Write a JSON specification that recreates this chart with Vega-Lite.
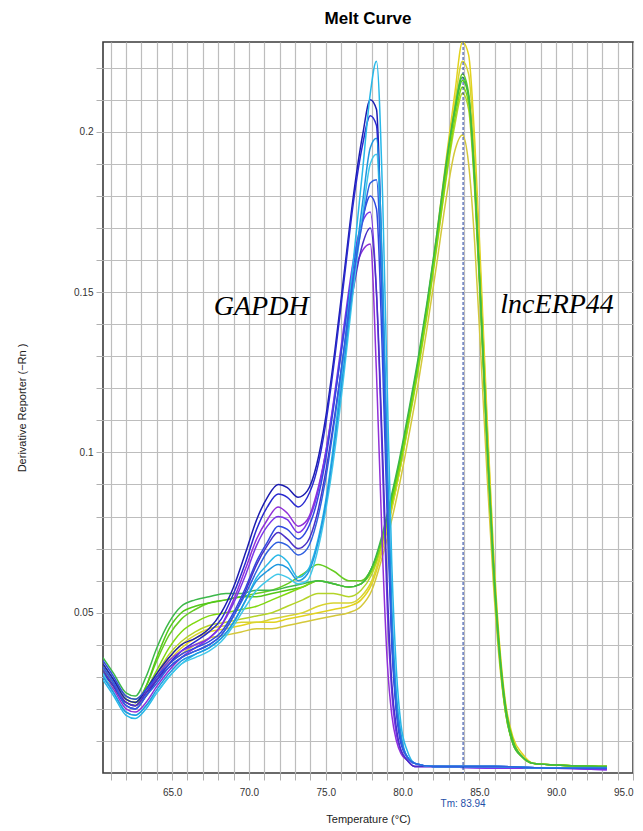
{
  "$schema": "https://vega.github.io/schema/vega-lite/v6.json",
  "width": 530,
  "height": 731,
  "autosize": {"type": "none"},
  "padding": {"left": 103, "top": 42, "right": 10, "bottom": 58},
  "background": "white",
  "title": {"text": "Melt Curve", "font": "Liberation Sans", "fontSize": 17, "fontWeight": "bold", "color": "#000000", "offset": 14, "anchor": "middle"},
  "config": {
    "view": {"stroke": "#3a3a3a", "strokeWidth": 1.6},
    "axis": {"labelFont": "Liberation Sans", "titleFont": "Liberation Sans", "labelFontSize": 10, "labelColor": "#333333", "titleFontSize": 11, "titleFontWeight": "normal", "titleColor": "#222222", "gridColor": "#bdbdbd", "gridWidth": 1.2, "tickColor": "#b0b0b0", "domain": false}
  },
  "layer": [
    {
      "data": {"values": [
        {"c":"L1","t":60.5,"v":0.031},{"c":"L1","t":61.2,"v":0.027},{"c":"L1","t":62.0,"v":0.023},{"c":"L1","t":62.6,"v":0.022},{"c":"L1","t":63.3,"v":0.025},{"c":"L1","t":64.0,"v":0.030},{"c":"L1","t":64.8,"v":0.035},{"c":"L1","t":65.6,"v":0.039},{"c":"L1","t":66.5,"v":0.042},{"c":"L1","t":67.4,"v":0.044},
        {"c":"L1","t":68.5,"v":0.045},{"c":"L1","t":69.5,"v":0.046},{"c":"L1","t":70.5,"v":0.047},{"c":"L1","t":71.5,"v":0.047},{"c":"L1","t":72.5,"v":0.048},{"c":"L1","t":73.5,"v":0.049},{"c":"L1","t":74.5,"v":0.050},{"c":"L1","t":75.5,"v":0.051},{"c":"L1","t":76.5,"v":0.052},{"c":"L1","t":77.3,"v":0.054},
        {"c":"L1","t":78.0,"v":0.059},{"c":"L1","t":78.6,"v":0.068},{"c":"L1","t":79.2,"v":0.080},{"c":"L1","t":79.8,"v":0.094},{"c":"L1","t":80.4,"v":0.110},{"c":"L1","t":81.0,"v":0.127},{"c":"L1","t":81.6,"v":0.146},{"c":"L1","t":82.2,"v":0.167},{"c":"L1","t":82.8,"v":0.190},{"c":"L1","t":83.4,"v":0.212},
        {"c":"L1","t":83.9,"v":0.228},{"c":"L1","t":84.3,"v":0.224},{"c":"L1","t":84.7,"v":0.197},{"c":"L1","t":85.1,"v":0.156},{"c":"L1","t":85.5,"v":0.111},{"c":"L1","t":85.9,"v":0.071},{"c":"L1","t":86.3,"v":0.041},{"c":"L1","t":86.7,"v":0.022},{"c":"L1","t":87.2,"v":0.011},{"c":"L1","t":87.8,"v":0.006},
        {"c":"L1","t":88.5,"v":0.003},{"c":"L1","t":90.0,"v":0.0025},{"c":"L1","t":93.3,"v":0.002},

        {"c":"L2","t":60.5,"v":0.030},{"c":"L2","t":61.2,"v":0.026},{"c":"L2","t":62.0,"v":0.022},{"c":"L2","t":62.6,"v":0.021},{"c":"L2","t":63.3,"v":0.024},{"c":"L2","t":64.0,"v":0.029},{"c":"L2","t":64.8,"v":0.034},{"c":"L2","t":65.6,"v":0.037},{"c":"L2","t":66.5,"v":0.040},{"c":"L2","t":67.4,"v":0.042},
        {"c":"L2","t":68.5,"v":0.043},{"c":"L2","t":69.5,"v":0.044},{"c":"L2","t":70.5,"v":0.045},{"c":"L2","t":71.5,"v":0.045},{"c":"L2","t":72.5,"v":0.046},{"c":"L2","t":73.5,"v":0.047},{"c":"L2","t":74.5,"v":0.048},{"c":"L2","t":75.5,"v":0.049},{"c":"L2","t":76.5,"v":0.050},{"c":"L2","t":77.3,"v":0.052},
        {"c":"L2","t":78.0,"v":0.057},{"c":"L2","t":78.6,"v":0.066},{"c":"L2","t":79.2,"v":0.077},{"c":"L2","t":79.8,"v":0.090},{"c":"L2","t":80.4,"v":0.105},{"c":"L2","t":81.0,"v":0.121},{"c":"L2","t":81.6,"v":0.139},{"c":"L2","t":82.2,"v":0.158},{"c":"L2","t":82.8,"v":0.178},{"c":"L2","t":83.4,"v":0.194},
        {"c":"L2","t":83.9,"v":0.199},{"c":"L2","t":84.3,"v":0.190},{"c":"L2","t":84.7,"v":0.165},{"c":"L2","t":85.1,"v":0.130},{"c":"L2","t":85.5,"v":0.093},{"c":"L2","t":85.9,"v":0.060},{"c":"L2","t":86.3,"v":0.035},{"c":"L2","t":86.7,"v":0.019},{"c":"L2","t":87.2,"v":0.009},{"c":"L2","t":87.8,"v":0.005},
        {"c":"L2","t":88.5,"v":0.003},{"c":"L2","t":90.0,"v":0.0025},{"c":"L2","t":93.3,"v":0.002},

        {"c":"L7","t":60.5,"v":0.033},{"c":"L7","t":61.2,"v":0.028},{"c":"L7","t":62.0,"v":0.023},{"c":"L7","t":62.6,"v":0.022},{"c":"L7","t":63.3,"v":0.026},{"c":"L7","t":64.0,"v":0.031},{"c":"L7","t":64.8,"v":0.037},{"c":"L7","t":65.6,"v":0.041},{"c":"L7","t":66.5,"v":0.044},{"c":"L7","t":67.4,"v":0.046},
        {"c":"L7","t":68.5,"v":0.047},{"c":"L7","t":69.5,"v":0.048},{"c":"L7","t":70.5,"v":0.049},{"c":"L7","t":71.5,"v":0.050},{"c":"L7","t":72.5,"v":0.052},{"c":"L7","t":73.5,"v":0.054},{"c":"L7","t":74.5,"v":0.056},{"c":"L7","t":75.5,"v":0.056},{"c":"L7","t":76.5,"v":0.055},{"c":"L7","t":77.3,"v":0.057},
        {"c":"L7","t":78.0,"v":0.062},{"c":"L7","t":78.6,"v":0.070},{"c":"L7","t":79.2,"v":0.081},{"c":"L7","t":79.8,"v":0.094},{"c":"L7","t":80.4,"v":0.109},{"c":"L7","t":81.0,"v":0.125},{"c":"L7","t":81.6,"v":0.143},{"c":"L7","t":82.2,"v":0.163},{"c":"L7","t":82.8,"v":0.184},{"c":"L7","t":83.4,"v":0.202},
        {"c":"L7","t":83.9,"v":0.212},{"c":"L7","t":84.3,"v":0.207},{"c":"L7","t":84.7,"v":0.181},{"c":"L7","t":85.1,"v":0.142},{"c":"L7","t":85.5,"v":0.101},{"c":"L7","t":85.9,"v":0.064},{"c":"L7","t":86.3,"v":0.037},{"c":"L7","t":86.7,"v":0.019},{"c":"L7","t":87.2,"v":0.009},{"c":"L7","t":87.8,"v":0.005},
        {"c":"L7","t":88.5,"v":0.003},{"c":"L7","t":90.0,"v":0.0025},{"c":"L7","t":93.3,"v":0.002},

        {"c":"L8","t":60.5,"v":0.032},{"c":"L8","t":61.2,"v":0.027},{"c":"L8","t":62.0,"v":0.023},{"c":"L8","t":62.6,"v":0.022},{"c":"L8","t":63.3,"v":0.025},{"c":"L8","t":64.0,"v":0.030},{"c":"L8","t":64.8,"v":0.036},{"c":"L8","t":65.6,"v":0.040},{"c":"L8","t":66.5,"v":0.043},{"c":"L8","t":67.4,"v":0.045},
        {"c":"L8","t":68.5,"v":0.046},{"c":"L8","t":69.5,"v":0.047},{"c":"L8","t":70.5,"v":0.047},{"c":"L8","t":71.5,"v":0.048},{"c":"L8","t":72.5,"v":0.049},{"c":"L8","t":73.5,"v":0.050},{"c":"L8","t":74.5,"v":0.052},{"c":"L8","t":75.5,"v":0.053},{"c":"L8","t":76.5,"v":0.053},{"c":"L8","t":77.3,"v":0.055},
        {"c":"L8","t":78.0,"v":0.060},{"c":"L8","t":78.6,"v":0.069},{"c":"L8","t":79.2,"v":0.081},{"c":"L8","t":79.8,"v":0.094},{"c":"L8","t":80.4,"v":0.110},{"c":"L8","t":81.0,"v":0.127},{"c":"L8","t":81.6,"v":0.145},{"c":"L8","t":82.2,"v":0.166},{"c":"L8","t":82.8,"v":0.188},{"c":"L8","t":83.4,"v":0.209},
        {"c":"L8","t":83.9,"v":0.222},{"c":"L8","t":84.3,"v":0.218},{"c":"L8","t":84.7,"v":0.192},{"c":"L8","t":85.1,"v":0.152},{"c":"L8","t":85.5,"v":0.108},{"c":"L8","t":85.9,"v":0.069},{"c":"L8","t":86.3,"v":0.040},{"c":"L8","t":86.7,"v":0.021},{"c":"L8","t":87.2,"v":0.010},{"c":"L8","t":87.8,"v":0.005},
        {"c":"L8","t":88.5,"v":0.003},{"c":"L8","t":90.0,"v":0.0025},{"c":"L8","t":93.3,"v":0.002},

        {"c":"L3","t":60.5,"v":0.033},{"c":"L3","t":61.2,"v":0.028},{"c":"L3","t":62.0,"v":0.023},{"c":"L3","t":62.6,"v":0.022},{"c":"L3","t":63.3,"v":0.027},{"c":"L3","t":64.0,"v":0.035},{"c":"L3","t":64.8,"v":0.043},{"c":"L3","t":65.6,"v":0.048},{"c":"L3","t":66.5,"v":0.051},{"c":"L3","t":67.4,"v":0.053},
        {"c":"L3","t":68.5,"v":0.054},{"c":"L3","t":69.5,"v":0.055},{"c":"L3","t":70.5,"v":0.056},{"c":"L3","t":71.5,"v":0.057},{"c":"L3","t":72.5,"v":0.059},{"c":"L3","t":73.5,"v":0.062},{"c":"L3","t":74.5,"v":0.065},{"c":"L3","t":75.5,"v":0.063},{"c":"L3","t":76.5,"v":0.060},{"c":"L3","t":77.3,"v":0.060},
        {"c":"L3","t":78.0,"v":0.064},{"c":"L3","t":78.6,"v":0.072},{"c":"L3","t":79.2,"v":0.083},{"c":"L3","t":79.8,"v":0.096},{"c":"L3","t":80.4,"v":0.111},{"c":"L3","t":81.0,"v":0.127},{"c":"L3","t":81.6,"v":0.145},{"c":"L3","t":82.2,"v":0.165},{"c":"L3","t":82.8,"v":0.187},{"c":"L3","t":83.4,"v":0.207},
        {"c":"L3","t":83.9,"v":0.218},{"c":"L3","t":84.3,"v":0.212},{"c":"L3","t":84.7,"v":0.185},{"c":"L3","t":85.1,"v":0.145},{"c":"L3","t":85.5,"v":0.103},{"c":"L3","t":85.9,"v":0.066},{"c":"L3","t":86.3,"v":0.038},{"c":"L3","t":86.7,"v":0.020},{"c":"L3","t":87.2,"v":0.009},{"c":"L3","t":87.8,"v":0.005},
        {"c":"L3","t":88.5,"v":0.003},{"c":"L3","t":90.0,"v":0.0025},{"c":"L3","t":93.3,"v":0.002},

        {"c":"L4","t":60.5,"v":0.032},{"c":"L4","t":61.2,"v":0.027},{"c":"L4","t":62.0,"v":0.022},{"c":"L4","t":62.6,"v":0.021},{"c":"L4","t":63.3,"v":0.027},{"c":"L4","t":64.0,"v":0.036},{"c":"L4","t":64.8,"v":0.045},{"c":"L4","t":65.6,"v":0.050},{"c":"L4","t":66.5,"v":0.052},{"c":"L4","t":67.4,"v":0.053},
        {"c":"L4","t":68.5,"v":0.054},{"c":"L4","t":69.5,"v":0.055},{"c":"L4","t":70.5,"v":0.055},{"c":"L4","t":71.5,"v":0.056},{"c":"L4","t":72.5,"v":0.057},{"c":"L4","t":73.5,"v":0.058},{"c":"L4","t":74.5,"v":0.060},{"c":"L4","t":75.5,"v":0.059},{"c":"L4","t":76.5,"v":0.058},{"c":"L4","t":77.3,"v":0.059},
        {"c":"L4","t":78.0,"v":0.064},{"c":"L4","t":78.6,"v":0.072},{"c":"L4","t":79.2,"v":0.084},{"c":"L4","t":79.8,"v":0.097},{"c":"L4","t":80.4,"v":0.112},{"c":"L4","t":81.0,"v":0.128},{"c":"L4","t":81.6,"v":0.146},{"c":"L4","t":82.2,"v":0.166},{"c":"L4","t":82.8,"v":0.188},{"c":"L4","t":83.4,"v":0.206},
        {"c":"L4","t":83.9,"v":0.216},{"c":"L4","t":84.3,"v":0.211},{"c":"L4","t":84.7,"v":0.185},{"c":"L4","t":85.1,"v":0.146},{"c":"L4","t":85.5,"v":0.104},{"c":"L4","t":85.9,"v":0.067},{"c":"L4","t":86.3,"v":0.039},{"c":"L4","t":86.7,"v":0.021},{"c":"L4","t":87.2,"v":0.010},{"c":"L4","t":87.8,"v":0.005},
        {"c":"L4","t":88.5,"v":0.003},{"c":"L4","t":90.0,"v":0.0025},{"c":"L4","t":93.3,"v":0.002},

        {"c":"L5","t":60.5,"v":0.034},{"c":"L5","t":61.2,"v":0.029},{"c":"L5","t":62.0,"v":0.024},{"c":"L5","t":62.6,"v":0.023},{"c":"L5","t":63.3,"v":0.026},{"c":"L5","t":64.0,"v":0.032},{"c":"L5","t":64.8,"v":0.039},{"c":"L5","t":65.6,"v":0.044},{"c":"L5","t":66.5,"v":0.047},{"c":"L5","t":67.4,"v":0.049},
        {"c":"L5","t":68.5,"v":0.050},{"c":"L5","t":69.5,"v":0.051},{"c":"L5","t":70.5,"v":0.052},{"c":"L5","t":71.5,"v":0.054},{"c":"L5","t":72.5,"v":0.056},{"c":"L5","t":73.5,"v":0.058},{"c":"L5","t":74.5,"v":0.060},{"c":"L5","t":75.5,"v":0.059},{"c":"L5","t":76.5,"v":0.058},{"c":"L5","t":77.3,"v":0.059},
        {"c":"L5","t":78.0,"v":0.063},{"c":"L5","t":78.6,"v":0.071},{"c":"L5","t":79.2,"v":0.082},{"c":"L5","t":79.8,"v":0.095},{"c":"L5","t":80.4,"v":0.110},{"c":"L5","t":81.0,"v":0.126},{"c":"L5","t":81.6,"v":0.144},{"c":"L5","t":82.2,"v":0.164},{"c":"L5","t":82.8,"v":0.185},{"c":"L5","t":83.4,"v":0.204},
        {"c":"L5","t":83.9,"v":0.214},{"c":"L5","t":84.3,"v":0.209},{"c":"L5","t":84.7,"v":0.183},{"c":"L5","t":85.1,"v":0.144},{"c":"L5","t":85.5,"v":0.102},{"c":"L5","t":85.9,"v":0.065},{"c":"L5","t":86.3,"v":0.037},{"c":"L5","t":86.7,"v":0.019},{"c":"L5","t":87.2,"v":0.009},{"c":"L5","t":87.8,"v":0.005},
        {"c":"L5","t":88.5,"v":0.003},{"c":"L5","t":90.0,"v":0.0025},{"c":"L5","t":93.3,"v":0.002},

        {"c":"L6","t":60.5,"v":0.036},{"c":"L6","t":61.2,"v":0.031},{"c":"L6","t":62.0,"v":0.025},{"c":"L6","t":62.6,"v":0.024},{"c":"L6","t":63.3,"v":0.030},{"c":"L6","t":64.0,"v":0.039},{"c":"L6","t":64.8,"v":0.047},{"c":"L6","t":65.6,"v":0.052},{"c":"L6","t":66.5,"v":0.054},{"c":"L6","t":67.4,"v":0.055},
        {"c":"L6","t":68.5,"v":0.056},{"c":"L6","t":69.5,"v":0.056},{"c":"L6","t":70.5,"v":0.057},{"c":"L6","t":71.5,"v":0.057},{"c":"L6","t":72.5,"v":0.058},{"c":"L6","t":73.5,"v":0.059},{"c":"L6","t":74.5,"v":0.060},{"c":"L6","t":75.5,"v":0.059},{"c":"L6","t":76.5,"v":0.058},{"c":"L6","t":77.3,"v":0.059},
        {"c":"L6","t":78.0,"v":0.064},{"c":"L6","t":78.6,"v":0.073},{"c":"L6","t":79.2,"v":0.085},{"c":"L6","t":79.8,"v":0.098},{"c":"L6","t":80.4,"v":0.113},{"c":"L6","t":81.0,"v":0.129},{"c":"L6","t":81.6,"v":0.147},{"c":"L6","t":82.2,"v":0.167},{"c":"L6","t":82.8,"v":0.189},{"c":"L6","t":83.4,"v":0.207},
        {"c":"L6","t":83.9,"v":0.217},{"c":"L6","t":84.3,"v":0.211},{"c":"L6","t":84.7,"v":0.184},{"c":"L6","t":85.1,"v":0.145},{"c":"L6","t":85.5,"v":0.103},{"c":"L6","t":85.9,"v":0.066},{"c":"L6","t":86.3,"v":0.038},{"c":"L6","t":86.7,"v":0.020},{"c":"L6","t":87.2,"v":0.009},{"c":"L6","t":87.8,"v":0.005},
        {"c":"L6","t":88.5,"v":0.003},{"c":"L6","t":90.0,"v":0.0025},{"c":"L6","t":93.3,"v":0.002},

        {"c":"G1","t":60.5,"v":0.034},{"c":"G1","t":61.2,"v":0.029},{"c":"G1","t":62.0,"v":0.023},{"c":"G1","t":62.6,"v":0.022},{"c":"G1","t":63.3,"v":0.026},{"c":"G1","t":64.0,"v":0.031},{"c":"G1","t":64.8,"v":0.036},{"c":"G1","t":65.6,"v":0.040},{"c":"G1","t":66.5,"v":0.042},{"c":"G1","t":67.4,"v":0.045},
        {"c":"G1","t":68.2,"v":0.050},{"c":"G1","t":69.0,"v":0.058},{"c":"G1","t":69.8,"v":0.069},{"c":"G1","t":70.5,"v":0.079},{"c":"G1","t":71.2,"v":0.086},{"c":"G1","t":71.9,"v":0.090},{"c":"G1","t":72.5,"v":0.089},{"c":"G1","t":73.2,"v":0.086},{"c":"G1","t":73.8,"v":0.088},{"c":"G1","t":74.4,"v":0.096},
        {"c":"G1","t":75.0,"v":0.111},{"c":"G1","t":75.6,"v":0.132},{"c":"G1","t":76.2,"v":0.156},{"c":"G1","t":76.8,"v":0.180},{"c":"G1","t":77.4,"v":0.199},{"c":"G1","t":77.9,"v":0.210},{"c":"G1","t":78.3,"v":0.207},{"c":"G1","t":78.7,"v":0.150},{"c":"G1","t":79.0,"v":0.092},{"c":"G1","t":79.3,"v":0.045},
        {"c":"G1","t":79.6,"v":0.021},{"c":"G1","t":79.9,"v":0.010},{"c":"G1","t":80.3,"v":0.005},{"c":"G1","t":80.8,"v":0.003},{"c":"G1","t":82.0,"v":0.002},{"c":"G1","t":86.0,"v":0.002},{"c":"G1","t":90.0,"v":0.0015},{"c":"G1","t":93.3,"v":0.0015},

        {"c":"G2","t":60.5,"v":0.031},{"c":"G2","t":61.2,"v":0.027},{"c":"G2","t":62.0,"v":0.021},{"c":"G2","t":62.6,"v":0.020},{"c":"G2","t":63.3,"v":0.024},{"c":"G2","t":64.0,"v":0.029},{"c":"G2","t":64.8,"v":0.034},{"c":"G2","t":65.6,"v":0.038},{"c":"G2","t":66.5,"v":0.041},{"c":"G2","t":67.4,"v":0.044},
        {"c":"G2","t":68.2,"v":0.048},{"c":"G2","t":69.0,"v":0.056},{"c":"G2","t":69.8,"v":0.066},{"c":"G2","t":70.5,"v":0.076},{"c":"G2","t":71.2,"v":0.083},{"c":"G2","t":71.9,"v":0.087},{"c":"G2","t":72.5,"v":0.086},{"c":"G2","t":73.2,"v":0.083},{"c":"G2","t":73.8,"v":0.086},{"c":"G2","t":74.4,"v":0.094},
        {"c":"G2","t":75.0,"v":0.109},{"c":"G2","t":75.6,"v":0.130},{"c":"G2","t":76.2,"v":0.154},{"c":"G2","t":76.8,"v":0.178},{"c":"G2","t":77.4,"v":0.196},{"c":"G2","t":77.9,"v":0.205},{"c":"G2","t":78.3,"v":0.202},{"c":"G2","t":78.7,"v":0.146},{"c":"G2","t":79.0,"v":0.089},{"c":"G2","t":79.3,"v":0.043},
        {"c":"G2","t":79.6,"v":0.020},{"c":"G2","t":79.9,"v":0.010},{"c":"G2","t":80.3,"v":0.005},{"c":"G2","t":80.8,"v":0.003},{"c":"G2","t":82.0,"v":0.002},{"c":"G2","t":86.0,"v":0.002},{"c":"G2","t":90.0,"v":0.0015},{"c":"G2","t":93.3,"v":0.0015},

        {"c":"G3","t":60.5,"v":0.030},{"c":"G3","t":61.2,"v":0.026},{"c":"G3","t":62.0,"v":0.020},{"c":"G3","t":62.6,"v":0.019},{"c":"G3","t":63.3,"v":0.022},{"c":"G3","t":64.0,"v":0.027},{"c":"G3","t":64.8,"v":0.032},{"c":"G3","t":65.6,"v":0.036},{"c":"G3","t":66.5,"v":0.039},{"c":"G3","t":67.4,"v":0.042},
        {"c":"G3","t":68.2,"v":0.046},{"c":"G3","t":69.0,"v":0.054},{"c":"G3","t":69.8,"v":0.064},{"c":"G3","t":70.5,"v":0.073},{"c":"G3","t":71.2,"v":0.079},{"c":"G3","t":71.9,"v":0.083},{"c":"G3","t":72.5,"v":0.081},{"c":"G3","t":73.2,"v":0.077},{"c":"G3","t":73.8,"v":0.079},{"c":"G3","t":74.4,"v":0.087},
        {"c":"G3","t":75.0,"v":0.100},{"c":"G3","t":75.6,"v":0.118},{"c":"G3","t":76.2,"v":0.138},{"c":"G3","t":76.8,"v":0.155},{"c":"G3","t":77.4,"v":0.163},{"c":"G3","t":77.9,"v":0.165},{"c":"G3","t":78.3,"v":0.125},{"c":"G3","t":78.7,"v":0.068},{"c":"G3","t":79.0,"v":0.035},{"c":"G3","t":79.3,"v":0.018},
        {"c":"G3","t":79.6,"v":0.010},{"c":"G3","t":79.9,"v":0.006},{"c":"G3","t":80.3,"v":0.004},{"c":"G3","t":80.8,"v":0.002},{"c":"G3","t":82.0,"v":0.002},{"c":"G3","t":86.0,"v":0.0015},{"c":"G3","t":90.0,"v":0.0015},{"c":"G3","t":93.3,"v":0.001},

        {"c":"G4","t":60.5,"v":0.033},{"c":"G4","t":61.2,"v":0.028},{"c":"G4","t":62.0,"v":0.022},{"c":"G4","t":62.6,"v":0.021},{"c":"G4","t":63.3,"v":0.025},{"c":"G4","t":64.0,"v":0.030},{"c":"G4","t":64.8,"v":0.035},{"c":"G4","t":65.6,"v":0.038},{"c":"G4","t":66.5,"v":0.040},{"c":"G4","t":67.4,"v":0.042},
        {"c":"G4","t":68.2,"v":0.046},{"c":"G4","t":69.0,"v":0.053},{"c":"G4","t":69.8,"v":0.062},{"c":"G4","t":70.5,"v":0.071},{"c":"G4","t":71.2,"v":0.077},{"c":"G4","t":71.9,"v":0.080},{"c":"G4","t":72.5,"v":0.079},{"c":"G4","t":73.2,"v":0.075},{"c":"G4","t":73.8,"v":0.078},{"c":"G4","t":74.4,"v":0.086},
        {"c":"G4","t":75.0,"v":0.100},{"c":"G4","t":75.6,"v":0.119},{"c":"G4","t":76.2,"v":0.140},{"c":"G4","t":76.8,"v":0.160},{"c":"G4","t":77.4,"v":0.172},{"c":"G4","t":77.9,"v":0.175},{"c":"G4","t":78.3,"v":0.150},{"c":"G4","t":78.7,"v":0.095},{"c":"G4","t":79.0,"v":0.052},{"c":"G4","t":79.3,"v":0.025},
        {"c":"G4","t":79.6,"v":0.012},{"c":"G4","t":79.9,"v":0.007},{"c":"G4","t":80.3,"v":0.004},{"c":"G4","t":80.8,"v":0.002},{"c":"G4","t":82.0,"v":0.002},{"c":"G4","t":86.0,"v":0.0015},{"c":"G4","t":90.0,"v":0.0015},{"c":"G4","t":93.3,"v":0.001},

        {"c":"G5","t":60.5,"v":0.035},{"c":"G5","t":61.2,"v":0.030},{"c":"G5","t":62.0,"v":0.024},{"c":"G5","t":62.6,"v":0.023},{"c":"G5","t":63.3,"v":0.026},{"c":"G5","t":64.0,"v":0.030},{"c":"G5","t":64.8,"v":0.034},{"c":"G5","t":65.6,"v":0.037},{"c":"G5","t":66.5,"v":0.039},{"c":"G5","t":67.4,"v":0.041},
        {"c":"G5","t":68.2,"v":0.044},{"c":"G5","t":69.0,"v":0.050},{"c":"G5","t":69.8,"v":0.058},{"c":"G5","t":70.5,"v":0.066},{"c":"G5","t":71.2,"v":0.072},{"c":"G5","t":71.9,"v":0.077},{"c":"G5","t":72.5,"v":0.076},{"c":"G5","t":73.2,"v":0.073},{"c":"G5","t":73.8,"v":0.076},{"c":"G5","t":74.4,"v":0.084},
        {"c":"G5","t":75.0,"v":0.098},{"c":"G5","t":75.6,"v":0.117},{"c":"G5","t":76.2,"v":0.138},{"c":"G5","t":76.8,"v":0.158},{"c":"G5","t":77.4,"v":0.173},{"c":"G5","t":77.9,"v":0.180},{"c":"G5","t":78.3,"v":0.176},{"c":"G5","t":78.7,"v":0.128},{"c":"G5","t":79.0,"v":0.080},{"c":"G5","t":79.3,"v":0.040},
        {"c":"G5","t":79.6,"v":0.019},{"c":"G5","t":79.9,"v":0.009},{"c":"G5","t":80.3,"v":0.005},{"c":"G5","t":80.8,"v":0.003},{"c":"G5","t":82.0,"v":0.002},{"c":"G5","t":86.0,"v":0.002},{"c":"G5","t":90.0,"v":0.0015},{"c":"G5","t":93.3,"v":0.0015},

        {"c":"G6","t":60.5,"v":0.032},{"c":"G6","t":61.2,"v":0.027},{"c":"G6","t":62.0,"v":0.022},{"c":"G6","t":62.6,"v":0.021},{"c":"G6","t":63.3,"v":0.025},{"c":"G6","t":64.0,"v":0.029},{"c":"G6","t":64.8,"v":0.033},{"c":"G6","t":65.6,"v":0.036},{"c":"G6","t":66.5,"v":0.038},{"c":"G6","t":67.4,"v":0.040},
        {"c":"G6","t":68.2,"v":0.043},{"c":"G6","t":69.0,"v":0.049},{"c":"G6","t":69.8,"v":0.057},{"c":"G6","t":70.5,"v":0.065},{"c":"G6","t":71.2,"v":0.071},{"c":"G6","t":71.9,"v":0.075},{"c":"G6","t":72.5,"v":0.073},{"c":"G6","t":73.2,"v":0.070},{"c":"G6","t":73.8,"v":0.072},{"c":"G6","t":74.4,"v":0.080},
        {"c":"G6","t":75.0,"v":0.094},{"c":"G6","t":75.6,"v":0.112},{"c":"G6","t":76.2,"v":0.132},{"c":"G6","t":76.8,"v":0.151},{"c":"G6","t":77.4,"v":0.165},{"c":"G6","t":77.9,"v":0.170},{"c":"G6","t":78.3,"v":0.150},{"c":"G6","t":78.7,"v":0.100},{"c":"G6","t":79.0,"v":0.058},{"c":"G6","t":79.3,"v":0.028},
        {"c":"G6","t":79.6,"v":0.014},{"c":"G6","t":79.9,"v":0.007},{"c":"G6","t":80.3,"v":0.004},{"c":"G6","t":80.8,"v":0.002},{"c":"G6","t":82.0,"v":0.002},{"c":"G6","t":86.0,"v":0.002},{"c":"G6","t":90.0,"v":0.0015},{"c":"G6","t":93.3,"v":0.0015},

        {"c":"G7","t":60.5,"v":0.029},{"c":"G7","t":61.2,"v":0.024},{"c":"G7","t":62.0,"v":0.018},{"c":"G7","t":62.6,"v":0.017},{"c":"G7","t":63.3,"v":0.020},{"c":"G7","t":64.0,"v":0.025},{"c":"G7","t":64.8,"v":0.030},{"c":"G7","t":65.6,"v":0.034},{"c":"G7","t":66.5,"v":0.037},{"c":"G7","t":67.4,"v":0.039},
        {"c":"G7","t":68.2,"v":0.042},{"c":"G7","t":69.0,"v":0.047},{"c":"G7","t":69.8,"v":0.054},{"c":"G7","t":70.5,"v":0.061},{"c":"G7","t":71.2,"v":0.065},{"c":"G7","t":71.9,"v":0.068},{"c":"G7","t":72.5,"v":0.066},{"c":"G7","t":73.2,"v":0.061},{"c":"G7","t":73.8,"v":0.063},{"c":"G7","t":74.4,"v":0.071},
        {"c":"G7","t":75.0,"v":0.085},{"c":"G7","t":75.6,"v":0.106},{"c":"G7","t":76.2,"v":0.132},{"c":"G7","t":76.8,"v":0.160},{"c":"G7","t":77.4,"v":0.188},{"c":"G7","t":77.9,"v":0.212},{"c":"G7","t":78.3,"v":0.222},{"c":"G7","t":78.7,"v":0.180},{"c":"G7","t":79.0,"v":0.120},{"c":"G7","t":79.3,"v":0.065},
        {"c":"G7","t":79.6,"v":0.032},{"c":"G7","t":79.9,"v":0.015},{"c":"G7","t":80.3,"v":0.007},{"c":"G7","t":80.8,"v":0.003},{"c":"G7","t":82.0,"v":0.002},{"c":"G7","t":86.0,"v":0.002},{"c":"G7","t":90.0,"v":0.0015},{"c":"G7","t":93.3,"v":0.0015},

        {"c":"G8","t":60.5,"v":0.031},{"c":"G8","t":61.2,"v":0.025},{"c":"G8","t":62.0,"v":0.019},{"c":"G8","t":62.6,"v":0.018},{"c":"G8","t":63.3,"v":0.021},{"c":"G8","t":64.0,"v":0.025},{"c":"G8","t":64.8,"v":0.030},{"c":"G8","t":65.6,"v":0.034},{"c":"G8","t":66.5,"v":0.036},{"c":"G8","t":67.4,"v":0.038},
        {"c":"G8","t":68.2,"v":0.041},{"c":"G8","t":69.0,"v":0.046},{"c":"G8","t":69.8,"v":0.052},{"c":"G8","t":70.5,"v":0.057},{"c":"G8","t":71.2,"v":0.060},{"c":"G8","t":71.9,"v":0.062},{"c":"G8","t":72.5,"v":0.061},{"c":"G8","t":73.2,"v":0.059},{"c":"G8","t":73.8,"v":0.060},{"c":"G8","t":74.4,"v":0.068},
        {"c":"G8","t":75.0,"v":0.082},{"c":"G8","t":75.6,"v":0.101},{"c":"G8","t":76.2,"v":0.125},{"c":"G8","t":76.8,"v":0.151},{"c":"G8","t":77.4,"v":0.174},{"c":"G8","t":77.9,"v":0.190},{"c":"G8","t":78.3,"v":0.193},{"c":"G8","t":78.7,"v":0.150},{"c":"G8","t":79.0,"v":0.095},{"c":"G8","t":79.3,"v":0.048},
        {"c":"G8","t":79.6,"v":0.023},{"c":"G8","t":79.9,"v":0.011},{"c":"G8","t":80.3,"v":0.005},{"c":"G8","t":80.8,"v":0.003},{"c":"G8","t":82.0,"v":0.002},{"c":"G8","t":86.0,"v":0.002},{"c":"G8","t":90.0,"v":0.0015},{"c":"G8","t":93.3,"v":0.0015},

        {"c":"G9","t":60.5,"v":0.030},{"c":"G9","t":61.2,"v":0.025},{"c":"G9","t":62.0,"v":0.019},{"c":"G9","t":62.6,"v":0.018},{"c":"G9","t":63.3,"v":0.021},{"c":"G9","t":64.0,"v":0.026},{"c":"G9","t":64.8,"v":0.031},{"c":"G9","t":65.6,"v":0.035},{"c":"G9","t":66.5,"v":0.037},{"c":"G9","t":67.4,"v":0.039},
        {"c":"G9","t":68.2,"v":0.042},{"c":"G9","t":69.0,"v":0.047},{"c":"G9","t":69.8,"v":0.054},{"c":"G9","t":70.5,"v":0.060},{"c":"G9","t":71.2,"v":0.063},{"c":"G9","t":71.9,"v":0.065},{"c":"G9","t":72.5,"v":0.064},{"c":"G9","t":73.2,"v":0.060},{"c":"G9","t":73.8,"v":0.062},{"c":"G9","t":74.4,"v":0.070},
        {"c":"G9","t":75.0,"v":0.084},{"c":"G9","t":75.6,"v":0.104},{"c":"G9","t":76.2,"v":0.128},{"c":"G9","t":76.8,"v":0.154},{"c":"G9","t":77.4,"v":0.178},{"c":"G9","t":77.9,"v":0.195},{"c":"G9","t":78.3,"v":0.198},{"c":"G9","t":78.7,"v":0.155},{"c":"G9","t":79.0,"v":0.099},{"c":"G9","t":79.3,"v":0.051},
        {"c":"G9","t":79.6,"v":0.024},{"c":"G9","t":79.9,"v":0.012},{"c":"G9","t":80.3,"v":0.005},{"c":"G9","t":80.8,"v":0.003},{"c":"G9","t":82.0,"v":0.002},{"c":"G9","t":86.0,"v":0.002},{"c":"G9","t":90.0,"v":0.0015},{"c":"G9","t":93.3,"v":0.0015},

        {"c":"G10","t":60.5,"v":0.033},{"c":"G10","t":61.2,"v":0.028},{"c":"G10","t":62.0,"v":0.021},{"c":"G10","t":62.6,"v":0.020},{"c":"G10","t":63.3,"v":0.024},{"c":"G10","t":64.0,"v":0.028},{"c":"G10","t":64.8,"v":0.033},{"c":"G10","t":65.6,"v":0.036},{"c":"G10","t":66.5,"v":0.038},{"c":"G10","t":67.4,"v":0.040},
        {"c":"G10","t":68.2,"v":0.043},{"c":"G10","t":69.0,"v":0.049},{"c":"G10","t":69.8,"v":0.056},{"c":"G10","t":70.5,"v":0.063},{"c":"G10","t":71.2,"v":0.069},{"c":"G10","t":71.9,"v":0.072},{"c":"G10","t":72.5,"v":0.071},{"c":"G10","t":73.2,"v":0.068},{"c":"G10","t":73.8,"v":0.070},{"c":"G10","t":74.4,"v":0.078},
        {"c":"G10","t":75.0,"v":0.092},{"c":"G10","t":75.6,"v":0.111},{"c":"G10","t":76.2,"v":0.133},{"c":"G10","t":76.8,"v":0.155},{"c":"G10","t":77.4,"v":0.172},{"c":"G10","t":77.9,"v":0.184},{"c":"G10","t":78.3,"v":0.185},{"c":"G10","t":78.7,"v":0.140},{"c":"G10","t":79.0,"v":0.087},{"c":"G10","t":79.3,"v":0.043},
        {"c":"G10","t":79.6,"v":0.020},{"c":"G10","t":79.9,"v":0.010},{"c":"G10","t":80.3,"v":0.005},{"c":"G10","t":80.8,"v":0.003},{"c":"G10","t":82.0,"v":0.002},{"c":"G10","t":86.0,"v":0.002},{"c":"G10","t":90.0,"v":0.0015},{"c":"G10","t":93.3,"v":0.0015}
      ]},
      "mark": {"type": "line", "interpolate": "monotone", "strokeWidth": 1.5, "clip": true},
      "encoding": {
        "x": {"field": "t", "type": "quantitative", "scale": {"domain": [60.5, 95], "nice": false, "zero": false},
          "axis": {"title": "Temperature (°C)", "values": [61,62,63,64,65,66,67,68,69,70,71,72,73,74,75,76,77,78,79,80,81,82,83,84,85,86,87,88,89,90,91,92,93,94,95],
            "tickCount": 100, "labelExpr": "datum.value % 5 === 0 ? format(datum.value, '.1f') : ''", "tickSize": 7, "labelPadding": 7, "titlePadding": 16, "labelOverlap": false}},
        "y": {"field": "v", "type": "quantitative", "scale": {"domain": [0, 0.228], "nice": false, "zero": false},
          "axis": {"title": "Derivative Reporter (−Rn )", "values": [0.01,0.02,0.03,0.04,0.05,0.06,0.07,0.08,0.09,0.1,0.11,0.12,0.13,0.14,0.15,0.16,0.17,0.18,0.19,0.2,0.21,0.22],
            "tickCount": 100, "labelExpr": "round(datum.value * 100) % 5 === 0 ? toString(round(datum.value * 100) / 100) : ''", "tickSize": 7, "labelPadding": 3, "titlePadding": 46, "labelOverlap": false}},
        "color": {"field": "c", "type": "nominal", "legend": null,
          "scale": {"domain": ["G1","G2","G3","G4","G5","G6","G7","G8","G9","G10","L1","L2","L3","L4","L5","L6","L7","L8"],
            "range": ["#1c1cb0","#2a2ad0","#9030d8","#7b35e8","#3048e0","#4a30c8","#28b8e8","#40c8ea","#1e98e0","#2f5fe0","#e2d21e","#d4c83a","#66cc22","#52c818","#80d810","#3cb84a","#b4d428","#d8d430"]}}
      }
    },
    {
      "data": {"values": [{"t": 83.94}]},
      "mark": {"type": "rule", "color": "#1a3aa0", "strokeDash": [3, 2], "strokeWidth": 1},
      "encoding": {"x": {"field": "t", "type": "quantitative", "scale": {"domain": [60.5, 95], "nice": false, "zero": false}}}
    },
    {
      "data": {"values": [{"t": 83.94, "v": 0, "lab": "Tm: 83.94"}]},
      "mark": {"type": "text", "dy": 31, "font": "Liberation Sans", "fontSize": 10, "color": "#1f4fa8", "align": "center", "baseline": "middle"},
      "encoding": {
        "x": {"field": "t", "type": "quantitative", "scale": {"domain": [60.5, 95], "nice": false, "zero": false}},
        "y": {"field": "v", "type": "quantitative", "scale": {"domain": [0, 0.228], "nice": false, "zero": false}},
        "text": {"field": "lab"}
      }
    },
    {
      "data": {"values": [{"t": 70.8, "v": 0.1455, "lab": "GAPDH"}, {"t": 90.06, "v": 0.146, "lab": "lncERP44"}]},
      "mark": {"type": "text", "font": "Liberation Serif", "fontStyle": "italic", "fontSize": 28, "color": "#000000", "align": "center", "baseline": "middle"},
      "encoding": {
        "x": {"field": "t", "type": "quantitative", "scale": {"domain": [60.5, 95], "nice": false, "zero": false}},
        "y": {"field": "v", "type": "quantitative", "scale": {"domain": [0, 0.228], "nice": false, "zero": false}},
        "text": {"field": "lab"}
      }
    }
  ]
}
